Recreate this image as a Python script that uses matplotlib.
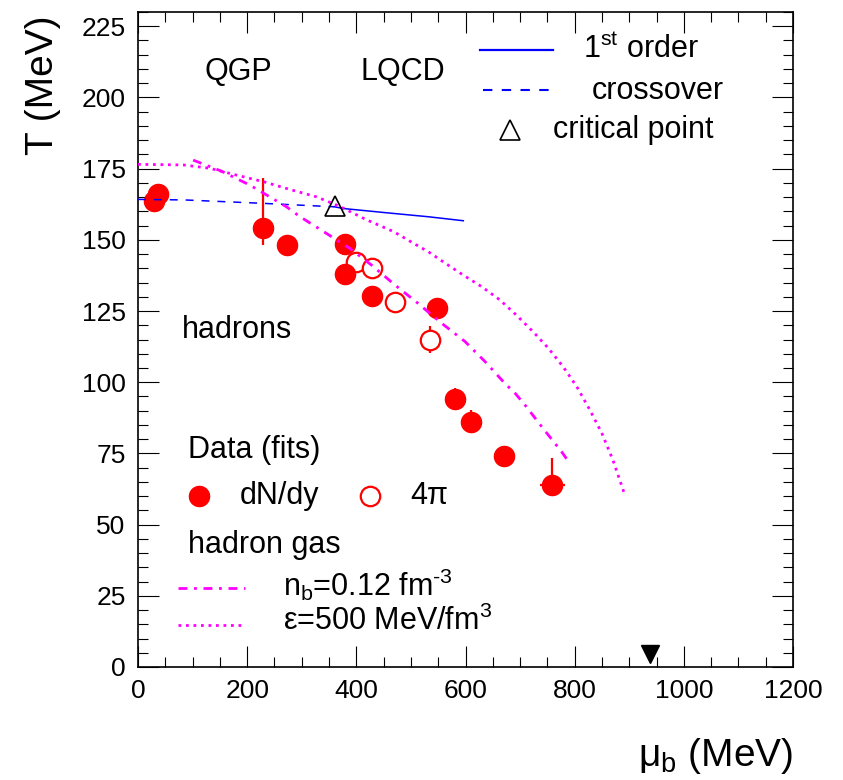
import matplotlib
matplotlib.use("Agg")
import matplotlib.pyplot as plt
from matplotlib.ticker import MultipleLocator

plt.rcParams['font.family'] = ['Liberation Sans', 'DejaVu Sans']
plt.rcParams['mathtext.fontset'] = 'custom'
plt.rcParams['mathtext.rm'] = 'Liberation Sans'
plt.rcParams['mathtext.it'] = 'Liberation Sans:italic'
plt.rcParams['mathtext.bf'] = 'Liberation Sans:bold'

# ---- data ----
mu_fill = [29, 37, 229, 273, 379, 379, 429, 548, 580, 610, 670, 759]
T_fill = [163.5, 166.0, 154.0, 148.2, 148.4, 138.0, 130.3, 126.2, 94.1, 86.1, 74.1, 63.9]
T_fill_err_up = [0, 0, 17.7, 0, 0, 0, 0, 0, 4.0, 4.0, 0, 9.5]
T_fill_err_lo = [0, 0, 5.8, 0, 0, 0, 0, 0, 0, 0, 0, 2.0]
mu_fill_err = [0, 0, 0, 0, 0, 0, 0, 0, 0, 0, 0, 23]

mu_open = [399, 428, 470, 535]
T_open = [142.2, 140.0, 128.2, 115.0]
T_open_err = [0, 0, 0, 4.8]

crit_mu = [360]
crit_T = [161.9]

cross_mu = [0, 86, 230, 327, 360]
cross_T = [164.2, 164.0, 162.8, 161.9, 161.6]

first_mu = [360, 376, 450, 532, 596]
first_T = [161.6, 161.0, 159.6, 158.1, 156.7]

nb_mu = [101, 153, 205, 251, 272, 297, 340, 388, 428, 471, 513, 553, 599, 636,
         672, 691, 709, 742, 776, 791]
nb_T = [178.0, 174.1, 169.2, 164.0, 161.6, 158.1, 152.9, 147.0, 141.1, 134.1, 127.7,
        121.2, 114.3, 107.2, 99.6, 96.1, 92.0, 83.8, 75.6, 71.5]

eps_mu = [0, 83, 132, 181, 230, 278, 327, 370, 419, 468, 510, 532, 559, 596, 630,
          663, 693, 724, 752, 779, 804, 828, 850, 870, 890]
eps_T = [176.5, 176.3, 175.1, 172.7, 170.4, 167.7, 165.1, 161.7, 157.0, 152.9, 148.2,
         145.8, 142.3, 137.6, 133.5, 128.9, 123.6, 117.7, 111.9, 105.4, 98.4, 90.2,
         82.0, 72.7, 61.5]

nucleon_mu = [938]
nucleon_T = [4.5]

red = '#ff0000'
blue = '#0000ff'
mag = '#ff00ff'

fig = plt.figure(figsize=(8.43, 7.8), dpi=100)
ax = fig.add_axes([138/843, 1-667/780, 655/843, 655/780])
ax.set_xlim(0, 1200)
ax.set_ylim(0, 230)

# data
ax.errorbar(mu_open, T_open, yerr=T_open_err, fmt='o', ms=14, mfc='white', mec=red,
            mew=1.6, color=red, elinewidth=1.6, capsize=0, zorder=2)
ax.errorbar(mu_fill, T_fill, yerr=[T_fill_err_lo, T_fill_err_up], xerr=mu_fill_err,
            fmt='o', ms=14.5, color=red, mec=red, elinewidth=1.6, capsize=0, zorder=3)

# curves
ax.plot(cross_mu, cross_T, color=blue, lw=1.1, ls=(0, (5.2, 5.2)), zorder=4)
ax.plot(first_mu, first_T, color=blue, lw=1.1, zorder=4)
ax.plot(nb_mu, nb_T, color=mag, lw=2.0, ls=(0, (3.2, 2.4, 1, 2.4)), zorder=5)
ax.plot(eps_mu, eps_T, color=mag, lw=2.0, ls=(0, (1, 1.7)), zorder=5)
ax.plot(crit_mu, crit_T, marker='^', ms=15, mfc='none', mec='black', mew=1.2, ls='none', zorder=6)
ax.plot(nucleon_mu, nucleon_T, marker='v', ms=13, color='black', ls='none', zorder=6, clip_on=False)

# texts
fs = 22
T = ax.transAxes
ax.text(0.102, 0.908, 'QGP', transform=T, fontsize=fs, va='center', ha='left')
ax.text(0.339, 0.908, 'LQCD', transform=T, fontsize=fs, va='center', ha='left')
ax.text(0.067, 0.515, 'hadrons', transform=T, fontsize=fs, va='center', ha='left')

# top-right legend
ax.plot([0.522, 0.634], [0.942, 0.942], transform=T, color=blue, lw=1.6)
ax.text(0.679, 0.942, r'1$^{\mathregular{st}}$ order', transform=T, fontsize=fs, va='center', ha='left')
ax.plot([0.527, 0.634], [0.881, 0.881], transform=T, color=blue, lw=1.5, ls=(0, (4.5, 4.5)))
ax.text(0.693, 0.879, 'crossover', transform=T, fontsize=fs, va='center', ha='left')
ax.plot([0.568], [0.820], transform=T, marker='^', ms=15, mfc='none', mec='black', mew=1.2)
ax.text(0.634, 0.820, 'critical point', transform=T, fontsize=fs, va='center', ha='left')

# bottom-left legend
ax.text(0.076, 0.331, 'Data (fits)', transform=T, fontsize=fs, va='center', ha='left')
ax.plot([0.093], [0.261], transform=T, marker='o', ms=14.5, color=red)
ax.text(0.156, 0.261, 'dN/dy', transform=T, fontsize=fs, va='center', ha='left')
ax.plot([0.354], [0.261], transform=T, marker='o', ms=14, mfc='white', mec=red, mew=1.6)
ax.text(0.415, 0.261, '4π', transform=T, fontsize=fs, va='center', ha='left')
ax.text(0.076, 0.186, 'hadron gas', transform=T, fontsize=fs, va='center', ha='left')
ax.plot([0.061, 0.163], [0.121, 0.121], transform=T, color=mag, lw=2.0, ls=(0, (3.2, 2.4, 1, 2.4)))
ax.text(0.221, 0.125, r'n$_{\mathregular{b}}$=0.12 fm$^{\mathregular{‐3}}$', transform=T, fontsize=fs, va='center', ha='left')
ax.plot([0.061, 0.163], [0.064, 0.064], transform=T, color=mag, lw=2.0, ls=(0, (1, 1.7)))
ax.text(0.221, 0.069, r'ε=500 MeV/fm$^{\mathregular{3}}$', transform=T, fontsize=fs, va='center', ha='left')

# axes styling
ax.xaxis.set_major_locator(MultipleLocator(200))
ax.xaxis.set_minor_locator(MultipleLocator(50))
ax.yaxis.set_major_locator(MultipleLocator(25))
ax.yaxis.set_minor_locator(MultipleLocator(5))
ax.tick_params(which='both', direction='in', top=True, right=True, labelsize=19, width=0.8)
ax.tick_params(which='major', length=15, pad=9)
ax.tick_params(which='minor', length=7.5)
for s in ax.spines.values():
    s.set_linewidth(1.2)

ax.set_ylabel('T (MeV)', fontsize=28, loc='top')
ax.yaxis.set_label_coords(-0.118, 0.995)
ax.set_xlabel(r'μ$_{\mathregular{b}}$ (MeV)', fontsize=28, loc='right')
ax.xaxis.set_label_coords(1.0, -0.105)

fig.savefig('out.png', dpi=100)
